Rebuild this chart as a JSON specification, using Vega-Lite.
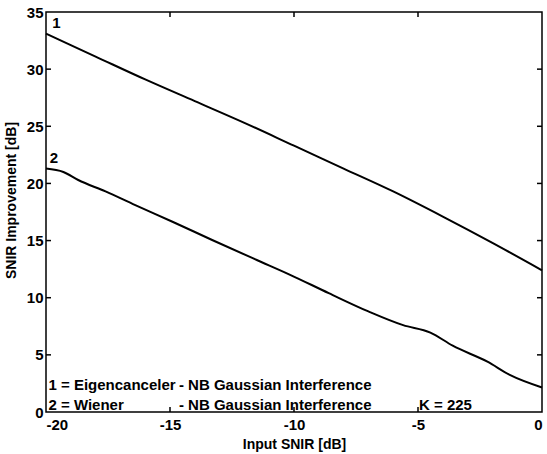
{
  "$schema": "https://vega.github.io/schema/vega-lite/v6.json",
  "width": 496,
  "height": 400,
  "autosize": "none",
  "padding": {"left": 46, "top": 12, "right": 5, "bottom": 42},
  "background": "white",
  "datasets": {
    "curves": [
      {"curve": "1", "input_snir": -20, "improvement": 33.1},
      {"curve": "1", "input_snir": -18, "improvement": 31.1},
      {"curve": "1", "input_snir": -16, "improvement": 29.1},
      {"curve": "1", "input_snir": -14, "improvement": 27.2},
      {"curve": "1", "input_snir": -12, "improvement": 25.3},
      {"curve": "1", "input_snir": -10, "improvement": 23.3},
      {"curve": "1", "input_snir": -8, "improvement": 21.3},
      {"curve": "1", "input_snir": -6, "improvement": 19.3},
      {"curve": "1", "input_snir": -4, "improvement": 17.1},
      {"curve": "1", "input_snir": -2, "improvement": 14.8},
      {"curve": "1", "input_snir": 0, "improvement": 12.4},
      {"curve": "2", "input_snir": -20, "improvement": 21.3},
      {"curve": "2", "input_snir": -19.3, "improvement": 21.0},
      {"curve": "2", "input_snir": -18.7, "improvement": 20.3},
      {"curve": "2", "input_snir": -17.6, "improvement": 19.3},
      {"curve": "2", "input_snir": -16.4, "improvement": 18.1},
      {"curve": "2", "input_snir": -14.9, "improvement": 16.65},
      {"curve": "2", "input_snir": -13.3, "improvement": 15.05},
      {"curve": "2", "input_snir": -11.5, "improvement": 13.3},
      {"curve": "2", "input_snir": -10.2, "improvement": 12.05},
      {"curve": "2", "input_snir": -8.6, "improvement": 10.4},
      {"curve": "2", "input_snir": -7.0, "improvement": 8.8},
      {"curve": "2", "input_snir": -5.6, "improvement": 7.6},
      {"curve": "2", "input_snir": -4.5, "improvement": 6.95},
      {"curve": "2", "input_snir": -3.6, "improvement": 5.8},
      {"curve": "2", "input_snir": -2.2, "improvement": 4.4},
      {"curve": "2", "input_snir": -1.3, "improvement": 3.25},
      {"curve": "2", "input_snir": 0, "improvement": 2.15}
    ],
    "xticks": [
      {"input_snir": -15, "improvement": 0},
      {"input_snir": -10, "improvement": 0},
      {"input_snir": -5, "improvement": 0},
      {"input_snir": -15, "improvement": 35},
      {"input_snir": -10, "improvement": 35},
      {"input_snir": -5, "improvement": 35}
    ],
    "yticks": [
      {"input_snir": -20, "improvement": 5},
      {"input_snir": -20, "improvement": 10},
      {"input_snir": -20, "improvement": 15},
      {"input_snir": -20, "improvement": 20},
      {"input_snir": -20, "improvement": 25},
      {"input_snir": -20, "improvement": 30},
      {"input_snir": 0, "improvement": 5},
      {"input_snir": 0, "improvement": 10},
      {"input_snir": 0, "improvement": 15},
      {"input_snir": 0, "improvement": 20},
      {"input_snir": 0, "improvement": 25},
      {"input_snir": 0, "improvement": 30}
    ],
    "notes": [
      {"input_snir": -19.75, "improvement": 33.6, "label": "1"},
      {"input_snir": -19.85, "improvement": 21.8, "label": "2"},
      {"input_snir": -19.9, "improvement": 1.9, "label": "1 = Eigencanceler"},
      {"input_snir": -14.64, "improvement": 1.9, "label": "- NB Gaussian Interference"},
      {"input_snir": -19.9, "improvement": 0.2, "label": "2 = Wiener"},
      {"input_snir": -14.64, "improvement": 0.2, "label": "- NB Gaussian Interference"},
      {"input_snir": -4.96, "improvement": 0.2, "label": "K = 225"}
    ]
  },
  "encoding": {
    "x": {
      "field": "input_snir", "type": "quantitative",
      "scale": {"domain": [-20, 0], "nice": false},
      "axis": {"orient": "bottom", "title": "Input SNIR [dB]", "tickCount": 4, "grid": false, "domain": false, "tickOpacity": 0, "tickSize": -5, "labelPadding": 10, "titlePadding": 5}
    },
    "y": {
      "field": "improvement", "type": "quantitative",
      "scale": {"domain": [0, 35], "nice": false},
      "axis": {"orient": "left", "title": "SNIR Improvement [dB]", "tickCount": 7, "grid": false, "domain": false, "tickOpacity": 0, "tickSize": -5, "labelPadding": 8, "titlePadding": 8, "titleY": 188}
    }
  },
  "layer": [
    {
      "data": {"name": "xticks"},
      "mark": {"type": "tick", "orient": "vertical", "color": "black", "size": 10, "thickness": 1.5, "clip": true, "opacity": 1}
    },
    {
      "data": {"name": "yticks"},
      "mark": {"type": "tick", "orient": "horizontal", "color": "black", "size": 10, "thickness": 1.5, "clip": true, "opacity": 1}
    },
    {
      "data": {"name": "curves"},
      "mark": {"type": "line", "color": "black", "strokeWidth": 2, "interpolate": "monotone"},
      "encoding": {
        "detail": {"field": "curve"}
      }
    },
    {
      "data": {"name": "notes"},
      "mark": {"type": "text", "align": "left", "baseline": "alphabetic", "font": "Liberation Sans", "fontWeight": "bold", "fontSize": 15, "color": "black"},
      "encoding": {
        "text": {"field": "label"}
      }
    }
  ],
  "config": {
    "view": {"stroke": "black", "strokeWidth": 1.5},
    "axis": {
      "labelExpr": "'' + datum.value",
      "labelFont": "Liberation Sans",
      "labelFontWeight": "bold",
      "labelFontSize": 15,
      "labelColor": "black",
      "titleFont": "Liberation Sans",
      "titleFontWeight": "bold",
      "titleFontSize": 14,
      "titleColor": "black"
    }
  }
}
